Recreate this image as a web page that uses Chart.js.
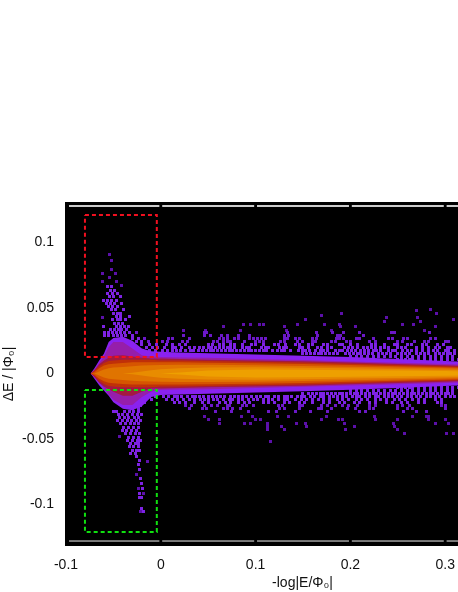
<!DOCTYPE html>
<html>
<head>
<meta charset="utf-8">
<script src="https://cdn.jsdelivr.net/npm/chart.js@4"></script>
<style>
html, body { margin: 0; padding: 0; background: #fff; }
#janela { width: 458px; height: 592px; overflow: hidden; }
canvas { display: block; }
</style>
</head>
<body>
<div id="janela"><canvas id="grafico" width="545" height="592"></canvas></div>
<script>
const xTicks = [-0.1, 0, 0.1, 0.2, 0.3];
const yTicks = [-0.1, -0.05, 0, 0.05, 0.1];

// x where the band half-widths are read (half-widths in units of 0.001)
const bandX = [-0.074,-0.07,-0.065,-0.06,-0.055,-0.05,-0.04,-0.03,-0.02,-0.01,0,0.02,0.05,0.1,0.15,0.2,0.25,0.3,0.32];
const violetUp = [0,4,10,15,24,27,28,25,19,17,16.5,16,15.5,14.5,13.5,12.5,11,9.5,9];
const violetDown = [0,4,9,13,17,22,27,28,25,18,16.5,16,15.5,14.5,13.5,12.5,11,9.5,9];
const magentaUp = [0,3,8,13,20,24,24,19,14,13,12.5,12.2,12,11,10.2,9.2,8.2,7.2,6.7];
const magentaDown = [0,3,7,11,16,20,24,24,18,14,12.5,12.2,12,11,10.2,9.2,8.2,7.2,6.7];
const darkRedUp = [0,2.5,7,10,12,13.5,14,13,12,11.5,11.5,11,10.5,10,9.3,8.3,7.3,6.3,5.8];
const darkRedDown = [0,2.5,7,10,12,14,17,17,14,11.5,11.5,11,10.5,10,9.3,8.3,7.3,6.3,5.8];
const redHalf = [0,2,5.5,8,9.5,10,10.5,10.5,10.5,10.5,10,10,9.5,9,8.4,7.4,6.4,5.5,5];
const redOrangeHalf = [0,1,4,6,7,7.5,8,8.5,8.5,8.5,8.5,8.5,8.2,7.8,7.2,6.4,5.6,4.8,4.4];
const orangeHalf = [0,0,1.5,3,4,4.5,5,5.5,6,6.2,6.4,6.6,6.6,6.3,5.8,5.2,4.6,3.9,3.6];
const deepAmberHalf = [0,0,0,0,0,0,0,0.5,1.5,2.5,3.2,4,4.6,4.8,4.4,3.9,3.4,2.9,2.6];
const amberHalf = [0,0,0,0,0,0,0,0,0,0,0,0.8,2.3,3,2.8,2.5,2.2,1.8,1.6];

// occupied bins, one row per y: [y, [x, x, ...]]
const dimRows = [
  [0.091,[-0.054]],[0.086,[-0.052]],[0.0795,[-0.052]],[0.0765,[-0.061,-0.048]],[0.0735,[-0.054]],
  [0.07,[-0.061,-0.047]],[0.0675,[-0.041]],[0.049,[0.285]],[0.048,[0.27]],[0.0457,[0.191,0.291]],
  [0.0443,[0.17]],[0.0425,[-0.062,0.238,0.271]],[0.0415,[0.153,0.309]],[0.04,[0.236,0.274]],
  [0.0375,[0.087,0.095,0.104,0.108,0.144,0.173,0.188,0.255,0.267]],[0.0355,[0.066,0.13,0.19,0.205,0.29]],
  [0.033,[0.047,0.084,0.133,0.18,0.278,0.024]],
  [-0.033,[0.046,0.085,0.097,0.123,0.135,0.175,0.225,0.265,0.28,0.282]],
  [-0.0355,[0.05,0.062,0.1,0.105,0.17,0.187,0.192,0.226,0.25,0.282,0.3]],
  [-0.038,[0.062,0.088,0.095,0.113,0.143,0.153,0.194,0.245,0.29,0.303]],
  [-0.0405,[0.113,0.127,0.154,0.204,0.246]],[-0.043,[0.113,0.131,0.195,0.25]],
  [-0.0457,[0.257,0.301,0.309]],[-0.0521,[0.116]],
  [-0.048,[-0.044]],[-0.067,[-0.0145]],[-0.077,[-0.026]],[-0.0875,[-0.023]],[-0.092,[-0.018]],[-0.1055,[-0.021]]
];
const midRows = [
  [0.0315,[-0.026,0.046,0.048,0.134,0.164,0.181,0.193,0.21,0.243,0.246,0.283]],
  [0.0292,[0.024,0.046,0.052,0.064,0.07,0.082,0.094,0.131,0.135,0.165,0.186,0.19,0.214]],
  [0.0268,[-0.017,0.008,0.012,0.03,0.062,0.066,0.07,0.078,0.082,0.094,0.098,0.102,0.106,0.11,0.13,0.134,0.142,0.146,0.16,0.164,0.185,0.189,0.193,0.206,0.21,0.224,0.24,0.244,0.256,0.26,0.284,0.29]],
  [0.0245,[-0.013,0.002,0.007,0.023,0.028,0.056,0.06,0.066,0.07,0.074,0.088,0.1,0.104,0.108,0.126,0.13,0.144,0.15,0.16,0.163,0.18,0.184,0.196,0.2,0.22,0.226,0.25,0.255,0.268,0.278,0.282,0.3,0.304]],
  [-0.0245,[0.026,0.032,0.046,0.054,0.06,0.07,0.072,0.086,0.09,0.098,0.124,0.128,0.146,0.15,0.17,0.176,0.184,0.192,0.198,0.208,0.22,0.226,0.25,0.255,0.262,0.296,0.3]],
  [-0.0268,[0.03,0.044,0.048,0.066,0.07,0.076,0.084,0.125,0.13,0.146,0.166,0.17,0.18,0.197,0.205,0.22,0.224,0.25,0.26,0.265,0.3]],
  [-0.0292,[0.058,0.075,0.092,0.114,0.122,0.142,0.158,0.176,0.21,0.216,0.256,0.27,0.28]]
];
const brightUpper = [
  [0.0665,[-0.056,-0.052]],[0.0635,[-0.053,-0.049]],[0.061,[-0.056,-0.051,-0.046]],[0.0585,[-0.054,-0.05,-0.043]],
  [0.056,[-0.06,-0.056,-0.052,-0.047]],[0.0535,[-0.057,-0.053,-0.049,-0.041]],[0.051,[-0.055,-0.051,-0.046]],
  [0.0485,[-0.052,-0.048,-0.039]],[0.046,[-0.05,-0.046,-0.042]],[0.0435,[-0.047,-0.043,-0.033]],
  [0.041,[-0.051,-0.046,-0.042,-0.037]],[0.0385,[-0.049,-0.045,-0.04]],[0.036,[-0.06,-0.047,-0.043,-0.038,-0.034]],
  [0.0335,[-0.053,-0.049,-0.045,-0.041,-0.036]],
  [0.0315,[-0.059,-0.055,-0.051,-0.047,-0.042,-0.038,-0.033]],
  [0.0292,[-0.059,-0.055,-0.05,-0.046,-0.041,-0.037,-0.03]],
  [0.0268,[-0.03,-0.023]],[0.0245,[-0.026,-0.02]],
  [0.0222,[-0.02,-0.012,-0.005,0.006,0.012,0.02,0.026,0.05,0.055,0.062,0.066,0.074,0.078,0.086,0.096,0.1,0.108,0.12,0.124,0.132,0.142,0.146,0.156,0.16,0.172,0.176,0.188,0.192,0.2,0.208,0.222,0.226,0.236,0.246,0.25,0.26,0.264,0.276,0.28,0.292,0.298]],
  [0.0198,[-0.015,-0.009,-0.003,0.004,0.012,0.016,0.022,0.03,0.036,0.041,0.045,0.05,0.054,0.058,0.062,0.066,0.07,0.074,0.078,0.086,0.09,0.094,0.106,0.11,0.114,0.125,0.129,0.133,0.146,0.15,0.156,0.165,0.17,0.176,0.18,0.194,0.198,0.202,0.208,0.214,0.218,0.222,0.226,0.232,0.236,0.24,0.25,0.254,0.258,0.27,0.276,0.282,0.29,0.294,0.302,0.306]],
  [0.0175,[-0.012,-0.006,0.002,0.007,0.012,0.017,0.021,0.026,0.031,0.035,0.04,0.044,0.048,0.052,0.056,0.06,0.064,0.068,0.072,0.076,0.08,0.084,0.088,0.092,0.096,0.1,0.104,0.108,0.112,0.118,0.123,0.127,0.131,0.137,0.145,0.149,0.153,0.157,0.163,0.168,0.172,0.176,0.184,0.188,0.192,0.197,0.201,0.205,0.211,0.215,0.219,0.224,0.228,0.232,0.24,0.244,0.248,0.255,0.26,0.264,0.27,0.276,0.282,0.288,0.292,0.3,0.304,0.31]],
  [0.0152,[0.15,0.154,0.158,0.162,0.166,0.17,0.174,0.178,0.182,0.186,0.195,0.199,0.203,0.207,0.211,0.215,0.219,0.223,0.23,0.234,0.238,0.242,0.25,0.254,0.258,0.262,0.27,0.274,0.278,0.282,0.29,0.294,0.298,0.302,0.306,0.31]],
  [0.013,[0.2,0.206,0.212,0.218,0.224,0.23,0.236,0.242,0.248,0.254,0.26,0.266,0.272,0.278,0.284,0.29,0.296,0.302,0.308]],
  [0.0108,[0.25,0.254,0.258,0.262,0.266,0.272,0.278,0.284,0.29,0.296,0.302,0.308,0.314]]
];
const brightLower = [
  [-0.0108,[0.25,0.254,0.258,0.262,0.266,0.272,0.278,0.284,0.29,0.296,0.302,0.308,0.314]],
  [-0.013,[0.2,0.206,0.212,0.218,0.224,0.23,0.236,0.242,0.248,0.254,0.26,0.266,0.272,0.278,0.284,0.29,0.296,0.302,0.308]],
  [-0.0152,[0.15,0.156,0.16,0.164,0.168,0.172,0.176,0.18,0.184,0.188,0.192,0.196,0.2,0.204,0.208,0.212,0.216,0.22,0.224,0.228,0.232,0.236,0.24,0.244,0.248,0.252,0.256,0.26,0.264,0.268,0.272,0.276,0.28,0.284,0.288,0.292,0.296,0.3,0.304,0.308]],
  [-0.0175,[-0.012,-0.006,0.003,0.008,0.014,0.018,0.022,0.028,0.033,0.037,0.041,0.045,0.05,0.055,0.059,0.063,0.067,0.073,0.078,0.082,0.086,0.09,0.096,0.101,0.105,0.11,0.114,0.12,0.124,0.13,0.134,0.138,0.144,0.148,0.152,0.158,0.162,0.168,0.172,0.178,0.182,0.186,0.192,0.196,0.202,0.206,0.21,0.216,0.22,0.226,0.23,0.236,0.24,0.244,0.25,0.254,0.26,0.264,0.27,0.274,0.28,0.284,0.29,0.294,0.3,0.306,0.31]],
  [-0.0198,[-0.018,-0.01,0.006,0.012,0.018,0.024,0.03,0.036,0.042,0.046,0.05,0.056,0.06,0.066,0.072,0.076,0.082,0.086,0.092,0.098,0.102,0.108,0.114,0.118,0.124,0.13,0.134,0.142,0.148,0.154,0.16,0.166,0.172,0.178,0.186,0.192,0.198,0.206,0.212,0.218,0.226,0.232,0.238,0.246,0.252,0.258,0.266,0.272,0.278,0.29,0.296]],
  [-0.0222,[-0.023,-0.017,0.014,0.02,0.026,0.036,0.044,0.05,0.062,0.068,0.074,0.082,0.088,0.094,0.108,0.114,0.12,0.13,0.136,0.146,0.152,0.16,0.172,0.178,0.188,0.194,0.204,0.21,0.22,0.226,0.238,0.244,0.254,0.26,0.272,0.278,0.292,0.296]],
  [-0.0245,[-0.027,-0.021]],[-0.0268,[-0.03,-0.023]],[-0.0292,[-0.05,-0.047,-0.038,-0.033,-0.029,-0.024]],
  [-0.0315,[-0.045,-0.04,-0.035,-0.03,-0.025,-0.02]],
  [-0.0338,[-0.044,-0.038,-0.034,-0.028,-0.023]],[-0.036,[-0.046,-0.04,-0.035,-0.031,-0.026,-0.021]],
  [-0.0385,[-0.042,-0.037,-0.032,-0.028,-0.023]],[-0.041,[-0.039,-0.034,-0.029,-0.024]],
  [-0.0435,[-0.04,-0.036,-0.031,-0.026]],[-0.046,[-0.037,-0.032,-0.027,-0.022]],[-0.0485,[-0.034,-0.029,-0.024]],
  [-0.051,[-0.035,-0.03,-0.025,-0.021]],[-0.0535,[-0.032,-0.027,-0.023]],[-0.056,[-0.033,-0.029,-0.023]],
  [-0.0585,[-0.03,-0.026,-0.022]],[-0.061,[-0.032,-0.027]],[-0.0635,[-0.026]],[-0.0665,[-0.0225]],[-0.0695,[-0.023]],
  [-0.073,[-0.0225]],[-0.08,[-0.0215]],[-0.0837,[-0.02]],[-0.0875,[-0.019]],[-0.092,[-0.022]],[-0.095,[-0.022,-0.02]],
  [-0.1027,[-0.02]],[-0.1055,[-0.018]]
];

const redBoxX = [-0.08,-0.0042,-0.0042,-0.08,-0.08];
const redBoxY = [0.121,0.121,0.0126,0.0126,0.121];
const greenBoxX = [-0.08,-0.0042,-0.0042,-0.08,-0.08];
const greenBoxY = [-0.0126,-0.0126,-0.121,-0.121,-0.0126];

const frameSegments = [[-0.0968,-0.0015],[0.0015,0.0985],[0.1015,0.1985],[0.2015,0.2985],[0.3015,0.4]];
const frameTopY = 0.1279;
const frameBottomY = -0.1279;

function pontos(xs, ys) {
    return xs.map((x, i) => ({ x: x, y: ys[i] }));
}

function celula(cor) {
    const c = document.createElement("canvas");
    c.width = 3;
    c.height = 3;
    const g = c.getContext("2d");
    g.fillStyle = cor;
    g.fillRect(0, 0, 3, 3);
    return c;
}

const datasets = [];

// scatter goes under everything else
function addCelulas(linhas, cor, ordem) {
    const d = [];
    linhas.forEach(l => l[1].forEach(x => d.push({ x: x, y: l[0] })));
    datasets.push({ data: d, showLine: false, pointStyle: celula(cor), pointRadius: 2, order: ordem });
}
addCelulas(dimRows, "#5c10aa", 202);
addCelulas(midRows, "#6c18c8", 201);
addCelulas(brightUpper, "#7e22e4", 200);
addCelulas(brightLower, "#7e22e4", 200);

// nested bands, outer to inner
function addFaixa(up, down, cor, ordem) {
    const base = { showLine: true, pointRadius: 0, borderWidth: 0, tension: 0, order: ordem };
    datasets.push(Object.assign({}, base, {
        data: pontos(bandX, up.map(v => v * 0.001)), fill: "+1", backgroundColor: cor
    }));
    datasets.push(Object.assign({}, base, {
        data: pontos(bandX, down.map(v => -v * 0.001)), fill: false
    }));
}
addFaixa(violetUp, violetDown, "#8a22f0", 100);
addFaixa(magentaUp, magentaDown, "#961eaa", 99);
addFaixa(darkRedUp, darkRedDown, "#a31a40", 98);
addFaixa(redHalf, redHalf, "#c03008", 97);
addFaixa(redOrangeHalf, redOrangeHalf, "#d65500", 96);
addFaixa(orangeHalf, orangeHalf, "#e07400", 95);
addFaixa(deepAmberHalf, deepAmberHalf, "#e88c00", 94);
addFaixa(amberHalf, amberHalf, "#eea000", 93);

function addCaixa(xs, ys, cor) {
    datasets.push({
        data: pontos(xs, ys), showLine: true, pointRadius: 0, borderColor: cor,
        borderWidth: 2, borderDash: [4, 3], fill: false, tension: 0, order: 2
    });
}
addCaixa(redBoxX, redBoxY, "#f01020");
addCaixa(greenBoxX, greenBoxY, "#10e010");

frameSegments.forEach(s => {
    datasets.push({
        data: [{ x: s[0], y: frameTopY }, { x: s[1], y: frameTopY }], showLine: true,
        pointRadius: 0, borderColor: "#cccccc", borderWidth: 2, order: 1
    });
    datasets.push({
        data: [{ x: s[0], y: frameBottomY }, { x: s[1], y: frameBottomY }], showLine: true,
        pointRadius: 0, borderColor: "#f0f0f0", borderWidth: 1, order: 1
    });
});

const fundoPreto = {
    id: "fundoPreto",
    beforeDraw(chart) {
        const a = chart.chartArea;
        chart.ctx.fillStyle = "#000";
        chart.ctx.fillRect(a.left, a.top, a.right - a.left, a.bottom - a.top);
    }
};

const fonte = { family: "'Liberation Sans', Arial, sans-serif", size: 14 };

new Chart(document.getElementById("grafico"), {
    type: "scatter",
    data: { datasets: datasets },
    plugins: [fundoPreto],
    options: {
        responsive: false,
        animation: false,
        layout: { padding: { top: 202, right: 0, left: 0, bottom: 0 } },
        plugins: { legend: { display: false }, tooltip: { enabled: false } },
        scales: {
            x: {
                min: -0.10105,
                max: 0.4,
                grid: { display: false },
                border: { display: false },
                afterBuildTicks: s => { s.ticks = xTicks.map(v => ({ value: v })); },
                afterFit: s => { s.height = 46; },
                ticks: { color: "#111", font: fonte, padding: 3, maxRotation: 0, callback: v => String(v) },
                title: { display: true, text: "-log|E/Φ₀|", color: "#111", font: fonte, padding: { top: 4, bottom: 0 } }
            },
            y: {
                min: -0.1317,
                max: 0.1309,
                grid: { display: false },
                border: { display: false },
                afterBuildTicks: s => { s.ticks = yTicks.map(v => ({ value: v })); },
                afterFit: s => { s.width = 65; },
                ticks: { color: "#111", font: fonte, padding: 3, callback: v => String(v) },
                title: { display: true, text: "ΔE / |Φ₀|", color: "#111", font: fonte, padding: { top: 1, bottom: 0 } }
            }
        }
    }
});
</script>
</body>
</html>
